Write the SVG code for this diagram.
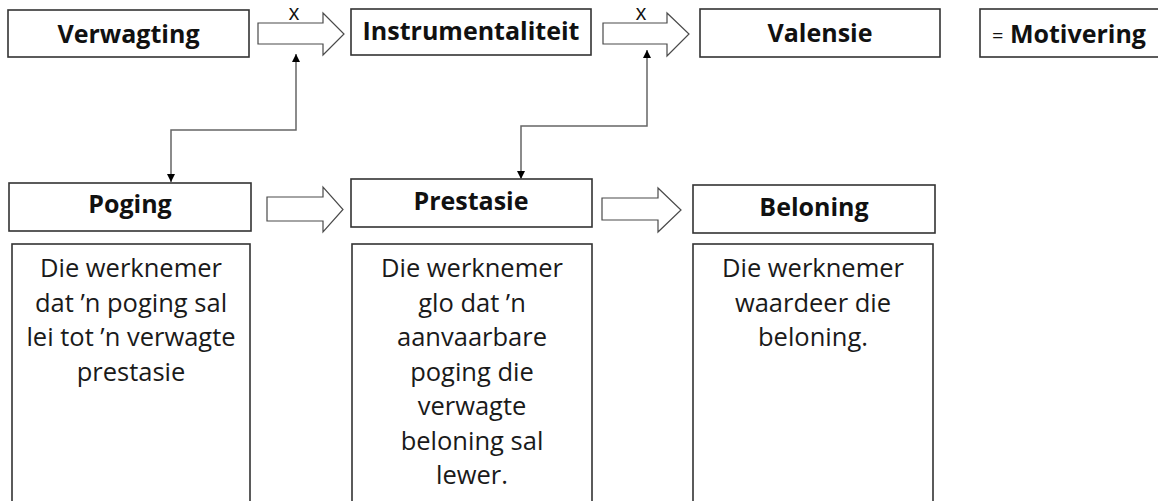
<svg xmlns="http://www.w3.org/2000/svg" width="1158" height="501" viewBox="0 0 1158 501">
<style>
.box{fill:#fff;stroke:#333;stroke-width:1.6}
.blk{fill:#fff;stroke:#4a4a4a;stroke-width:1.2;stroke-linejoin:miter}
.hd{font-family:"Open Sans","Liberation Sans",sans-serif;font-weight:bold;font-size:25px;fill:#111;text-anchor:middle}
.bd{font-family:"Open Sans","Liberation Sans",sans-serif;font-size:25.5px;fill:#1a1a1a;text-anchor:middle}
.xl{font-family:"Open Sans","Liberation Sans",sans-serif;font-size:21px;fill:#111;text-anchor:middle}
.con{fill:none;stroke:#666;stroke-width:1.5}
</style>
<defs>
<marker id="ah" viewBox="0 0 10 10" refX="10" refY="5" markerWidth="8" markerHeight="8" orient="auto-start-reverse" markerUnits="userSpaceOnUse">
<path d="M0,0 L10,5 L0,10 z" fill="#000"/>
</marker>
</defs>
<rect width="1158" height="501" fill="#fff"/>

<g id="verwagting">
<rect class="box" x="8" y="10" width="241" height="47"/>
<text class="hd" x="128.5" y="43">Verwagting</text>
</g>
<g id="instrumentaliteit">
<rect class="box" x="351" y="9" width="240" height="46"/>
<text class="hd" x="471" y="40">Instrumentaliteit</text>
</g>
<g id="valensie">
<rect class="box" x="700" y="9" width="240" height="48"/>
<text class="hd" x="820" y="42">Valensie</text>
</g>
<g id="motivering">
<rect class="box" x="980" y="9" width="190" height="48"/>
<text x="992" y="43" font-family="'Open Sans','Liberation Sans',sans-serif" fill="#111"><tspan font-size="20px">=</tspan><tspan font-size="25px" font-weight="bold"> Motivering</tspan></text>
</g>

<g id="poging">
<rect class="box" x="9" y="183" width="242" height="48"/>
<text class="hd" x="130" y="213">Poging</text>
</g>
<g id="poging-desc">
<rect class="box" x="12" y="244" width="238" height="270"/>
<text class="bd" x="131"><tspan x="131" y="277">Die werknemer</tspan><tspan x="131" y="311.5">dat ’n poging sal</tspan><tspan x="131" y="346">lei tot ’n verwagte</tspan><tspan x="131" y="380.5">prestasie</tspan></text>
</g>
<g id="prestasie">
<rect class="box" x="351" y="179" width="241" height="48"/>
<text class="hd" x="471" y="210">Prestasie</text>
</g>
<g id="prestasie-desc">
<rect class="box" x="352" y="244" width="240" height="270"/>
<text class="bd" x="472"><tspan x="472" y="277">Die werknemer</tspan><tspan x="472" y="311.5">glo dat ’n</tspan><tspan x="472" y="346">aanvaarbare</tspan><tspan x="472" y="380.5">poging die</tspan><tspan x="472" y="415">verwagte</tspan><tspan x="472" y="449.5">beloning sal</tspan><tspan x="472" y="484">lewer.</tspan></text>
</g>
<g id="beloning">
<rect class="box" x="693" y="185" width="242" height="48"/>
<text class="hd" x="814" y="216">Beloning</text>
</g>
<g id="beloning-desc">
<rect class="box" x="693" y="244" width="240" height="270"/>
<text class="bd" x="813"><tspan x="813" y="277">Die werknemer</tspan><tspan x="813" y="311.5">waardeer die</tspan><tspan x="813" y="346">beloning.</tspan></text>
</g>

<g id="connectors">
<polygon class="blk" points="258,23 323,23 323,13 344,34 323,55 323,44 258,44"/>
<polygon class="blk" points="603,23 667,23 667,13 689,34 667,56 667,44 603,44"/>
<polygon class="blk" points="267,197 323,197 323,187 343,209.5 323,232 323,221 267,221"/>
<polygon class="blk" points="602,198 658,198 658,188 681,210 658,232 658,220 602,220"/>
<text class="xl" x="294" y="20">x</text>
<text class="xl" x="641" y="20">x</text>
<path class="con" d="M171,182 V130 H296 V54" marker-start="url(#ah)" marker-end="url(#ah)"/>
<path class="con" d="M521,179 V126 H647 V50" marker-start="url(#ah)" marker-end="url(#ah)"/>
</g>
</svg>
